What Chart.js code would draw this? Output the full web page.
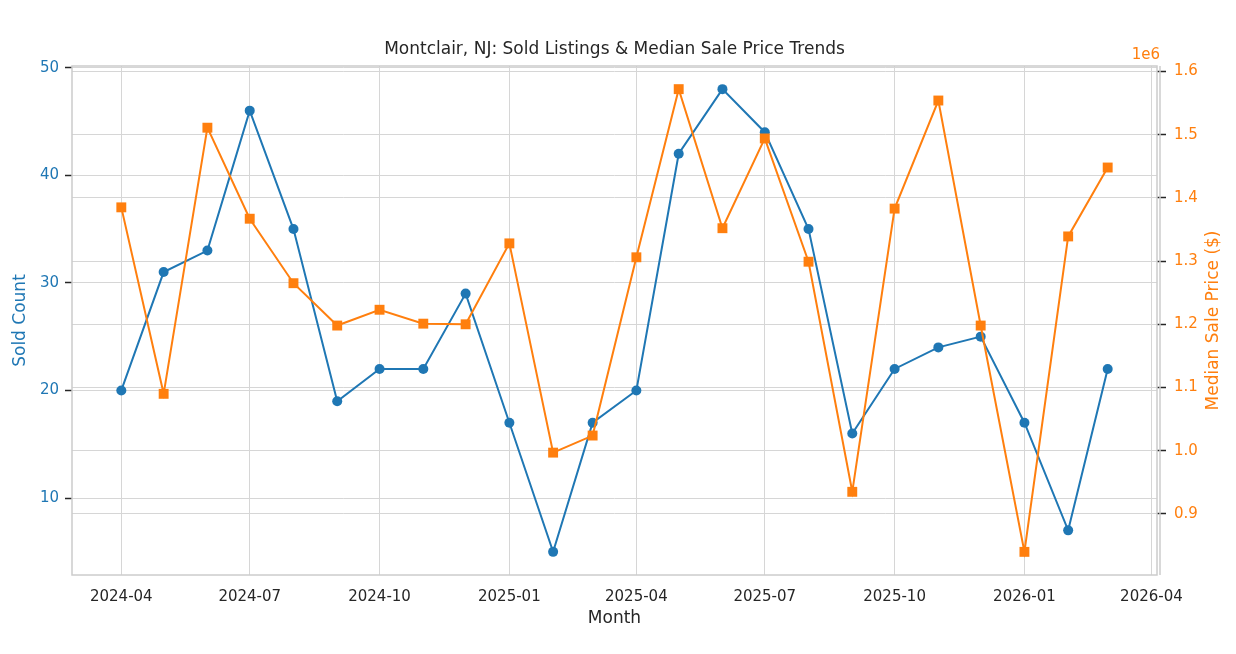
<!DOCTYPE html>
<html>
<head>
<meta charset="utf-8">
<script src="https://cdn.jsdelivr.net/npm/chart.js@4.4.1/dist/chart.umd.min.js"></script>
<style>
  html, body { margin: 0; padding: 0; background: #fff; }
</style>
</head>
<body>
<canvas id="chart" width="1236" height="654"></canvas>
<script>
// monthly data
const months = ['2024-04', '2024-05', '2024-06', '2024-07', '2024-08', '2024-09', '2024-10', '2024-11',
    '2024-12', '2025-01', '2025-02', '2025-03', '2025-04', '2025-05', '2025-06', '2025-07', '2025-08',
    '2025-09', '2025-10', '2025-11', '2025-12', '2026-01', '2026-02', '2026-03'];
const soldCount = [20, 31, 33, 46, 35, 19, 22, 22, 29, 17, 5, 17, 20, 42, 48, 44, 35, 16, 22, 24, 25, 17, 7, 22];
const medianPrice = [1385000, 1090000, 1511000, 1367000, 1265000, 1198000, 1223000, 1201000, 1200000,
    1328000, 997000, 1024000, 1306000, 1572000, 1352000, 1494000, 1299000, 935000, 1383000, 1554000,
    1198000, 840000, 1339000, 1448000];
const monthTicks = ['2024-04', '2024-07', '2024-10', '2025-01', '2025-04', '2025-07', '2025-10', '2026-01', '2026-04'];
const countTicks = [10, 20, 30, 40, 50];
const priceTicks = [900000, 1000000, 1100000, 1200000, 1300000, 1400000, 1500000, 1600000];

const BLUE = '#1f77b4';
const ORANGE = '#ff7f0e';
const GRID = '#d6d6d6';
const FONT = '"DejaVu Sans", sans-serif';

// month string -> day number, so the x axis is a real time line
function dayOf(m) {
    const [y, mo] = m.split('-').map(Number);
    return Date.UTC(y, mo - 1, 1) / 86400000;
}
function labelOf(day) {
    const d = new Date(day * 86400000);
    return d.getUTCFullYear() + '-' + String(d.getUTCMonth() + 1).padStart(2, '0');
}
// matplotlib style 5% margins
function padRange(values) {
    const lo = Math.min(...values), hi = Math.max(...values);
    const m = (hi - lo) * 0.05;
    return { min: lo - m, max: hi + m };
}

const xs = months.map(dayOf);
const xRange = padRange(xs);
const countRange = padRange(soldCount);
const priceRange = padRange(medianPrice);

const framePlugin = {
    id: 'frame',
    beforeDatasetsDraw(chart) {
        const { ctx, chartArea: a } = chart;
        ctx.save();
        ctx.strokeStyle = '#cccccc';
        ctx.lineWidth = 1.5;
        ctx.strokeRect(a.left, a.top, a.right - a.left, a.bottom - a.top);
        ctx.beginPath();
        ctx.moveTo(a.right + 3, a.top);
        ctx.lineTo(a.right + 3, a.bottom);
        ctx.stroke();
        ctx.restore();
    },
    afterDraw(chart) {
        const { ctx, chartArea: a } = chart;
        ctx.save();
        ctx.fillStyle = '#262626';
        ctx.font = '17px ' + FONT;
        ctx.textAlign = 'center';
        ctx.textBaseline = 'middle';
        ctx.fillText('Montclair, NJ: Sold Listings & Median Sale Price Trends', (a.left + a.right) / 2, 50);
        ctx.fillStyle = ORANGE;
        ctx.font = '15px ' + FONT;
        ctx.textAlign = 'right';
        ctx.fillText('1e6', a.right + 3, 55);
        // right axis title reads bottom to top, like matplotlib
        ctx.font = '17px ' + FONT;
        ctx.textAlign = 'center';
        ctx.translate(1214, (a.top + a.bottom) / 2);
        ctx.rotate(-Math.PI / 2);
        ctx.fillText('Median Sale Price ($)', 0, 0);
        ctx.restore();
    }
};

new Chart(document.getElementById('chart'), {
    type: 'line',
    data: {
        datasets: [{
            label: 'Sold Count',
            data: xs.map((x, i) => ({ x, y: soldCount[i] })),
            yAxisID: 'yCount',
            borderColor: BLUE,
            backgroundColor: BLUE,
            borderWidth: 2,
            pointStyle: 'circle',
            pointRadius: 5,
            pointBorderWidth: 0,
            order: 2
        }, {
            label: 'Median Sale Price ($)',
            data: xs.map((x, i) => ({ x, y: medianPrice[i] })),
            yAxisID: 'yPrice',
            borderColor: ORANGE,
            backgroundColor: ORANGE,
            borderWidth: 2,
            pointStyle: 'rect',
            pointRadius: 7,
            pointBorderWidth: 0,
            order: 1
        }]
    },
    options: {
        responsive: false,
        animation: false,
        devicePixelRatio: 1,
        layout: { padding: { top: 66, left: 0, right: 0, bottom: 0 } },
        plugins: { legend: { display: false }, tooltip: { enabled: false } },
        scales: {
            x: {
                type: 'linear',
                min: xRange.min,
                max: xRange.max,
                afterFit: s => { s.height = 79; },
                afterBuildTicks: s => { s.ticks = monthTicks.map(m => ({ value: dayOf(m) })); },
                grid: { color: GRID, lineWidth: 1, drawTicks: false },
                border: { display: false },
                ticks: {
                    color: '#262626', font: { family: FONT, size: 15 }, padding: 13,
                    maxRotation: 0, autoSkip: false,
                    callback: v => labelOf(v)
                },
                title: {
                    display: true, text: 'Month', color: '#262626',
                    font: { family: FONT, size: 17 }, padding: { top: 0, bottom: 25 }
                }
            },
            yCount: {
                type: 'linear',
                position: 'left',
                min: countRange.min,
                max: countRange.max,
                afterFit: s => { s.width = 72; },
                afterBuildTicks: s => { s.ticks = countTicks.map(v => ({ value: v })); },
                grid: { color: GRID, lineWidth: 1, tickColor: '#262626', tickLength: 7, tickWidth: 1.5 },
                border: { display: false },
                ticks: { color: BLUE, font: { family: FONT, size: 15 }, padding: 6 },
                title: {
                    display: true, text: 'Sold Count', color: BLUE,
                    font: { family: FONT, size: 17 }, padding: { top: 10, bottom: 0 }
                }
            },
            yPrice: {
                type: 'linear',
                position: 'right',
                min: priceRange.min,
                max: priceRange.max,
                afterFit: s => { s.width = 79; },
                afterBuildTicks: s => { s.ticks = priceTicks.map(v => ({ value: v })); },
                grid: { color: GRID, lineWidth: 1, tickColor: '#262626', tickLength: 9, tickWidth: 1.5 },
                border: { display: false },
                ticks: {
                    color: ORANGE, font: { family: FONT, size: 15 }, padding: 8,
                    callback: v => (v / 1e6).toFixed(1)
                },
                title: { display: false }
            }
        }
    },
    plugins: [framePlugin]
});
</script>
</body>
</html>
